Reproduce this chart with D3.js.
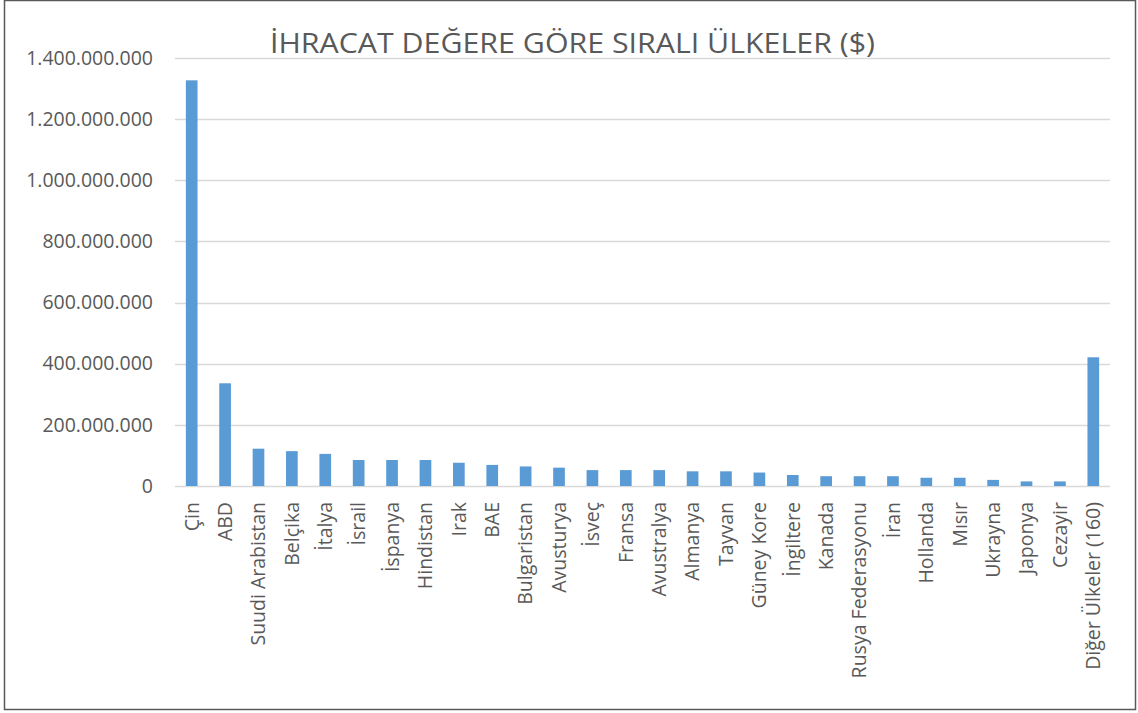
<!DOCTYPE html>
<html>
<head>
<meta charset="utf-8">
<script src="https://cdn.jsdelivr.net/npm/d3@7"></script>
<style>
  html, body { margin: 0; padding: 0; background: #fff; }
  svg { display: block; font-family: "Open Sans", "Noto Sans", sans-serif; }
</style>
</head>
<body>
<svg id="chart" width="1138" height="713"></svg>
<script>
const title = "İHRACAT DEĞERE GÖRE SIRALI ÜLKELER ($)";
const categories = ["Çin","ABD","Suudi Arabistan","Belçika","İtalya","İsrail","İspanya","Hindistan","Irak","BAE","Bulgaristan","Avusturya","İsveç","Fransa","Avustralya","Almanya","Tayvan","Güney Kore","İngiltere","Kanada","Rusya Federasyonu","İran","Hollanda","Mısır","Ukrayna","Japonya","Cezayir","Diğer Ülkeler (160)"];
const values = [1327000000,336000000,122000000,114000000,105000000,85000000,85000000,85000000,76000000,69000000,64000000,60000000,52000000,52000000,52000000,48000000,48000000,44000000,36000000,32000000,32000000,32000000,27000000,27000000,20000000,15000000,15000000,421000000];
const yTicks = [0,200000000,400000000,600000000,800000000,1000000000,1200000000,1400000000];

const svg = d3.select("#chart");
const plot = {left: 175, right: 1110, top: 58, bottom: 486};

// border
svg.append("rect").attr("x", 4.5).attr("y", 0.5).attr("width", 1131).attr("height", 709)
  .attr("fill", "#fff").attr("stroke", "#595959").attr("stroke-width", 1.5);

const x = d3.scaleBand().domain(categories).range([plot.left, plot.right])
  .paddingInner(0.65).paddingOuter(0.325);
const y = d3.scaleLinear().domain([0, 1400000000]).range([plot.bottom, plot.top]);

const loc = d3.formatLocale({decimal: ",", thousands: ".", grouping: [3], currency: ["", "$"]});
const fmt = loc.format(",d");

// gridlines
svg.append("g").selectAll("line").data(yTicks).join("line")
  .attr("x1", plot.left).attr("x2", plot.right)
  .attr("y1", d => Math.round(y(d)) + 0.5).attr("y2", d => Math.round(y(d)) + 0.5)
  .attr("stroke", "#D9D9D9").attr("stroke-width", 1.3);

// y axis labels
const yAxis = d3.axisLeft(y).tickValues(yTicks).tickFormat(fmt).tickSize(0).tickPadding(22);
const yg = svg.append("g").attr("transform", `translate(${plot.left},0)`).call(yAxis);
yg.select(".domain").remove();
yg.selectAll("text").attr("fill", "#595959").style("font-size", "19.5px")
  .style("font-family", "'Open Sans', sans-serif");

// bars
svg.append("g").selectAll("rect").data(values).join("rect")
  .attr("x", (d, i) => x(categories[i]))
  .attr("width", x.bandwidth())
  .attr("y", d => y(d))
  .attr("height", d => y(0) - y(d))
  .attr("fill", "#5B9BD5");

// x labels
const xAxis = d3.axisBottom(x).tickSize(0).tickPadding(0);
const xg = svg.append("g").attr("transform", `translate(0,${plot.bottom})`).call(xAxis);
xg.select(".domain").remove();
xg.selectAll("text")
  .attr("fill", "#595959").style("font-size", "19.5px")
  .style("font-family", "'Open Sans', sans-serif")
  .attr("text-anchor", "end")
  .attr("transform", "rotate(-90)")
  .attr("x", -16).attr("y", 0).attr("dy", "0.35em");

// title
svg.append("text").attr("x", 270).attr("y", 53)
  .attr("fill", "#595959").style("font-size", "28px")
  .attr("textLength", 605).attr("lengthAdjust", "spacingAndGlyphs")
  .text(title);
</script>
</body>
</html>
